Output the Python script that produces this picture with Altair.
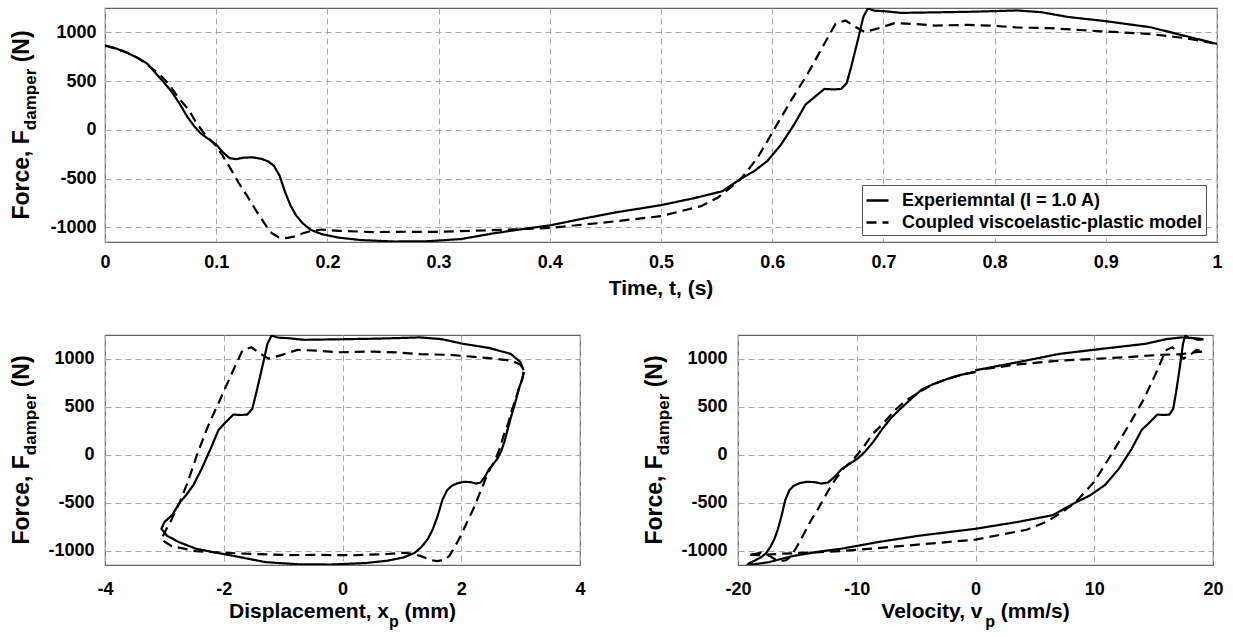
import altair as alt
import pandas as pd

# ---------------- data ----------------
series_names = ["Experiemntal (I = 1.0 A)", "Coupled viscoelastic-plastic model"]

t_exp = [0.000, 0.010, 0.020, 0.030, 0.038, 0.045, 0.052, 0.060, 0.067, 0.074, 0.080, 0.086, 0.092,
         0.100, 0.106, 0.112, 0.118, 0.125, 0.133, 0.141, 0.147, 0.152, 0.157, 0.162, 0.167, 0.172,
         0.178, 0.185, 0.195, 0.210, 0.230, 0.260, 0.290, 0.320, 0.350, 0.380, 0.400, 0.430, 0.460,
         0.500, 0.530, 0.555, 0.572, 0.584, 0.596, 0.608, 0.620, 0.630, 0.638, 0.647, 0.655, 0.662,
         0.667, 0.671, 0.677, 0.682, 0.686, 0.692, 0.700, 0.716, 0.746, 0.780, 0.800, 0.820, 0.842,
         0.866, 0.900, 0.940, 0.970, 1.000]
F_exp = [865, 835, 790, 735, 680, 590, 500, 390, 270, 135, 40, -35, -85,
         -150, -230, -290, -300, -285, -282, -298, -325, -370, -470, -640, -780, -880,
         -960, -1025, -1070, -1105, -1130, -1145, -1142, -1120, -1060, -1010, -980, -910, -845,
         -772, -700, -630, -500, -422, -316, -150, 60, 260, 336, 420, 415, 420,
         480, 645, 920, 1160, 1245, 1222, 1218, 1200, 1205, 1212, 1218, 1225, 1207,
         1158, 1115, 1053, 967, 882]
x_exp = [3.05, 3.044, 3.026, 2.996, 2.963, 2.929, 2.889, 2.836, 2.784, 2.726, 2.673, 2.615, 2.554,
         2.468, 2.398, 2.325, 2.249, 2.157, 2.045, 1.929, 1.838, 1.762, 1.683, 1.602, 1.519, 1.436,
         1.333, 1.211, 1.033, 0.759, 0.382, -0.192, -0.759, -1.299, -1.793, -2.223, -2.468, -2.760, -2.954,
         -3.05, -2.996, -2.870, -2.744, -2.635, -2.512, -2.375, -2.223, -2.088, -1.973, -1.838, -1.714, -1.602,
         -1.519, -1.453, -1.350, -1.264, -1.194, -1.087, -0.943, -0.647, -0.077, 0.572, 0.943, 1.299, 1.667,
         2.033, 2.468, 2.836, 2.996, 3.05]
v_exp = [0, -1.206, -2.406, -3.598, -4.541, -5.357, -6.162, -7.068, -7.846, -8.609, -9.250, -9.877, -10.491,
         -11.286, -11.863, -12.427, -12.971, -13.576, -14.246, -14.874, -15.320, -15.673, -16.014, -16.339, -16.648, -16.940,
         -17.268, -17.621, -18.065, -18.597, -19.049, -19.162, -18.597, -17.373, -15.533, -13.143, -11.286, -8.175, -4.775,
         0, 3.598, 6.504, 8.393, 9.670, 10.891, 12.049, 13.143, 13.996, 14.643, 15.320, 15.880, 16.339,
         16.648, 16.882, 17.215, 17.474, 17.669, 17.939, 18.260, 18.764, 19.194, 18.860, 18.260, 17.373, 16.080,
         14.313, 11.286, 7.068, 3.598, 0]

t_mod = [0.000, 0.010, 0.020, 0.030, 0.040, 0.050, 0.058, 0.066, 0.075, 0.082, 0.090, 0.098, 0.105,
         0.112, 0.120, 0.128, 0.136, 0.144, 0.150, 0.156, 0.163, 0.170, 0.178, 0.186, 0.195, 0.210,
         0.240, 0.270, 0.300, 0.340, 0.370, 0.400, 0.446, 0.500, 0.536, 0.551, 0.566, 0.572, 0.587,
         0.602, 0.617, 0.632, 0.647, 0.657, 0.666, 0.675, 0.683, 0.695, 0.710, 0.730, 0.746, 0.776,
         0.800, 0.820, 0.850, 0.880, 0.900, 0.940, 0.970, 1.000]
F_mod = [865, 835, 790, 735, 650, 560, 460, 330, 210, 75, -50, -140, -250,
         -380, -540, -680, -830, -970, -1060, -1100, -1110, -1095, -1060, -1035, -1022, -1035,
         -1048, -1045, -1046, -1032, -1020, -1005, -954, -885, -782, -696, -560, -500, -284,
         10, 302, 577, 885, 1090, 1122, 1055, 1004, 1040, 1095, 1085, 1070, 1077,
         1067, 1050, 1043, 1022, 1009, 983, 943, 882]
x_mod = [3.05, 3.044, 3.026, 2.996, 2.954, 2.901, 2.850, 2.791, 2.718, 2.654, 2.575, 2.490, 2.410,
         2.325, 2.223, 2.115, 2.004, 1.884, 1.793, 1.698, 1.585, 1.469, 1.333, 1.194, 1.033, 0.759,
         0.192, -0.382, -0.943, -1.634, -2.088, -2.468, -2.876, -3.05, -2.972, -2.895, -2.791, -2.744, -2.606,
         -2.445, -2.263, -2.061, -1.838, -1.683, -1.536, -1.385, -1.246, -1.033, -0.759, -0.382, -0.077, 0.496,
         0.943, 1.299, 1.793, 2.223, 2.468, 2.836, 2.996, 3.05]
v_mod = [0, -1.206, -2.406, -3.598, -4.775, -5.933, -6.843, -7.736, -8.717, -9.459, -10.288, -11.089, -11.768,
         -12.427, -13.143, -13.835, -14.472, -15.096, -15.533, -15.949, -16.402, -16.825, -17.268, -17.669, -18.065, -18.597,
         -19.162, -19.049, -18.260, -16.211, -13.996, -11.286, -6.390, 0, 4.306, 6.048, 7.736, 8.393, 9.981,
         11.475, 12.872, 14.156, 15.320, 16.014, 16.587, 17.107, 17.524, 18.065, 18.597, 19.049, 19.194, 18.944,
         18.260, 17.373, 15.533, 13.143, 11.286, 7.068, 3.598, 0]

time_ticks = [0, 0.1, 0.2, 0.3, 0.4, 0.5, 0.6, 0.7, 0.8, 0.9, 1]
disp_ticks = [-4, -2, 0, 2, 4]
vel_ticks = [-20, -10, 0, 10, 20]
force_ticks = [-1000, -500, 0, 500, 1000]
force_domain = [-1150, 1250]

# ---------------- table ----------------
def build(ts, fs, xs, vs, name):
    return pd.DataFrame({"i": list(range(len(ts))), "t": ts, "F": fs, "x": xs, "v": vs, "series": name})

df = pd.concat([build(t_exp, F_exp, x_exp, v_exp, series_names[0]),
                build(t_mod, F_mod, x_mod, v_mod, series_names[1])], ignore_index=True)

# ---------------- styling ----------------
FONT = "Liberation Sans"
MAIN, SUB, XT = 23, 17, 21
W = {' ': 278, '(': 333, ')': 333, ',': 278, '-': 333, '.': 278, '/': 278, '=': 584,
     'A': 722, 'C': 722, 'D': 722, 'E': 667, 'F': 611, 'I': 278, 'N': 722, 'T': 611, 'V': 667,
     'a': 556, 'c': 556, 'd': 611, 'e': 556, 'i': 278, 'l': 278, 'm': 889, 'n': 611, 'o': 611,
     'p': 611, 'r': 389, 's': 556, 't': 333, 'v': 556, 'x': 556, 'y': 556}


def tw(s, size):
    return sum(W.get(c, 556) for c in s) / 1000.0 * size


one = pd.DataFrame({"k": [0]})
LABEL_EXPR = "'' + datum.value"
dash_scale = alt.Scale(domain=series_names, range=[[1, 0], [10, 6]])


def text_layer(txt, x, y, size, angle=0, align="left"):
    kw = dict(text=txt, font=FONT, fontSize=size, fontWeight="bold", color="black",
              align=align, baseline="alphabetic")
    if angle:
        kw["angle"] = angle
    return alt.Chart(one).mark_text(**kw).encode(x=alt.value(x), y=alt.value(y))


def y_title(h, xb=-76, dsub=7):
    w1 = tw("Force, F", MAIN)
    w2 = tw("damper", SUB)
    gap = tw(" ", MAIN)
    w3 = tw("(N)", MAIN)
    total = w1 + w2 + gap + w3
    y0 = h / 2 + total / 2
    return [text_layer("Force, F", xb, y0, MAIN, 270),
            text_layer("damper", xb + dsub, y0 - w1, SUB, 270),
            text_layer("(N)", xb, y0 - w1 - w2 - gap, MAIN, 270)]


def x_title_sub(w, h, main, sub, tail, yoff=53, dsub=9):
    w1 = tw(main, XT)
    w2 = tw(sub, 16)
    gap = tw(" ", XT)
    w3 = tw(tail, XT)
    total = w1 + w2 + gap + w3
    x0 = w / 2 - total / 2
    yb = h + yoff
    return [text_layer(main, x0, yb, XT),
            text_layer(sub, x0 + w1, yb + dsub, 16),
            text_layer(tail, x0 + w1 + w2 + gap, yb, XT)]


def y_enc(pad):
    return alt.Y("F:Q", scale=alt.Scale(domain=force_domain, nice=False, zero=False),
                 axis=alt.Axis(values=force_ticks, title=None, labelPadding=pad, labelExpr=LABEL_EXPR))


def lines(xfield, xdomain, xticks, xpad, ypad, legend):
    return alt.Chart(df).mark_line(strokeWidth=2.2, color="black", clip=True).encode(
        x=alt.X(f"{xfield}:Q", scale=alt.Scale(domain=xdomain, nice=False, zero=False),
                axis=alt.Axis(values=xticks, title=None, labelPadding=xpad, labelExpr=LABEL_EXPR,
                              labelFlush=False)),
        y=y_enc(ypad),
        strokeDash=alt.StrokeDash("series:N", scale=dash_scale, legend=legend),
        order=alt.Order("i:Q"),
        detail="series:N",
    )


legend = alt.Legend(title=None, orient="none", legendX=757, legendY=177, direction="vertical",
                    symbolType="stroke", symbolSize=484, symbolStrokeWidth=2.4,
                    symbolStrokeColor="black", labelFont=FONT, labelFontSize=18,
                    labelFontWeight="bold", labelColor="black", labelLimit=500, labelOffset=12,
                    fillColor="white", strokeColor="#555555", padding=3, rowPadding=0)

TW, TH = 1112, 234
BW, BH = 475, 230

top = alt.layer(
    lines("t", [0, 1], time_ticks, 11, 9, legend),
    *y_title(TH),
    text_layer("Time, t, (s)", TW / 2, TH + 53, XT, align="center"),
).properties(width=TW, height=TH)

bl = alt.layer(
    lines("x", [-4, 4], disp_ticks, 15, 11, None),
    *y_title(BH),
    *x_title_sub(BW, BH, "Displacement, x", "p", "(mm)"),
).properties(width=BW, height=BH)

br = alt.layer(
    lines("v", [-20, 20], vel_ticks, 15, 11, None),
    *y_title(BH),
    *x_title_sub(BW, BH, "Velocity, v", "p", "(mm/s)"),
).properties(width=BW, height=BH)

bottom = alt.hconcat(bl, br, spacing=158, bounds="flush")

chart = alt.vconcat(top, bottom, spacing=93, bounds="flush").resolve_scale(
    strokeDash="independent").resolve_legend(strokeDash="independent").properties(
    padding={"left": 10, "top": 7, "right": 2, "bottom": 0}, background="white"
).configure_view(stroke="#666666", strokeWidth=1.2).configure_axis(
    grid=True, gridColor="#a8a8a8", gridDash=[6, 4], gridWidth=1, domain=False, ticks=False,
    labelFont=FONT, labelFontSize=18, labelFontWeight="bold", labelColor="black",
)

chart.save("out.html", embed_options={"renderer": "svg", "actions": False})
